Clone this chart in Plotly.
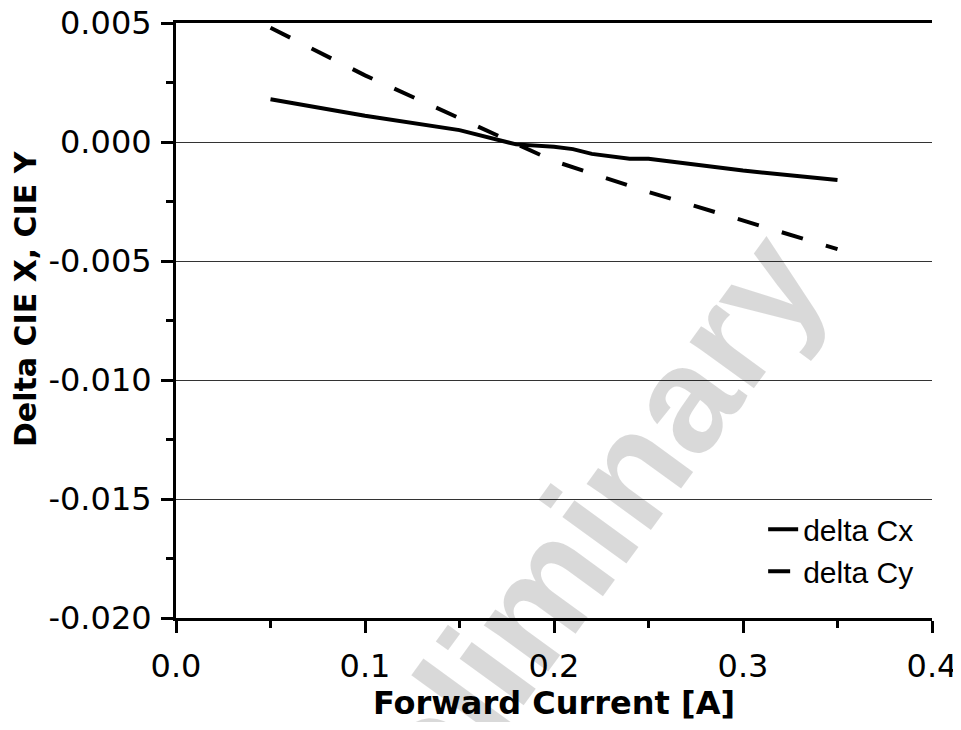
import plotly.graph_objects as go

# Data
cx_current = [0.05, 0.10, 0.15, 0.18, 0.20, 0.21, 0.22, 0.24, 0.25, 0.30, 0.35]
delta_cx = [0.0018, 0.0011, 0.0005, -0.0001, -0.0002, -0.0003, -0.0005, -0.0007, -0.0007, -0.0012, -0.0016]

cy_current = [0.05, 0.10, 0.15, 0.20, 0.25, 0.30, 0.35]
delta_cy = [0.0048, 0.0028, 0.0010, -0.0008, -0.0021, -0.0033, -0.0045]

y_tick_vals = [0.005, 0.000, -0.005, -0.010, -0.015, -0.020]
y_tick_text = ["0.005", "0.000", "-0.005", "-0.010", "-0.015", "-0.020"]
x_tick_vals = [0.0, 0.1, 0.2, 0.3, 0.4]
x_tick_text = ["0.0", "0.1", "0.2", "0.3", "0.4"]

fig = go.Figure()
fig.add_trace(go.Scatter(x=cx_current, y=delta_cx, mode="lines", name="delta Cx",
                         line=dict(color="black", width=4)))
fig.add_trace(go.Scatter(x=cy_current, y=delta_cy, mode="lines", name="delta Cy",
                         line=dict(color="black", width=4, dash="22px,24px")))

tick_font = dict(family="DejaVu Sans", size=32, color="black")
title_font = dict(family="DejaVu Sans", size=32, color="black", weight="bold")

fig.update_layout(
    width=953, height=714,
    paper_bgcolor="white", plot_bgcolor="white",
    margin=dict(l=168, r=29, t=15, b=104, autoexpand=False),
    showlegend=True,
    legend=dict(x=0.983, xanchor="right", y=0.035, yanchor="bottom",
                font=dict(family="Liberation Sans", size=30, color="black"),
                bgcolor="rgba(0,0,0,0)", borderwidth=0, tracegroupgap=0),
    xaxis=dict(range=[0, 0.4], tickvals=x_tick_vals, ticktext=x_tick_text,
               showline=True, linewidth=3, linecolor="black", mirror=True,
               ticks="outside", ticklen=12, tickwidth=3, tickcolor="black",
               ticklabelstandoff=6, ticklabeloverflow="allow",
               minor=dict(tickvals=[0.05, 0.15, 0.25, 0.35], ticks="outside", ticklen=7,
                          tickwidth=3, tickcolor="black", showgrid=False),
               showgrid=False, zeroline=False, tickfont=tick_font,
               title=dict(text="Forward Current [A]", font=title_font, standoff=19)),
    yaxis=dict(range=[-0.020, 0.005], tickvals=y_tick_vals, ticktext=y_tick_text,
               showline=True, linewidth=3, linecolor="black",
               ticks="outside", ticklen=12, tickwidth=3, tickcolor="black",
               ticklabelstandoff=3, ticklabeloverflow="allow",
               minor=dict(tickvals=[0.0025, -0.0025, -0.0075, -0.0125, -0.0175], ticks="outside",
                          ticklen=7, tickwidth=3, tickcolor="black", showgrid=False),
               showgrid=True, gridcolor="#333333", gridwidth=1, zeroline=False,
               tickfont=tick_font),
)

# Y-axis title (placed as text, slightly above the axis centre as in the reference)
fig.add_annotation(text="<b>Delta CIE X, CIE Y</b>", xref="paper", yref="paper",
                   x=-0.199, y=0.537, xanchor="center", yanchor="middle",
                   showarrow=False, textangle=-90,
                   font=dict(family="DejaVu Sans", size=30, color="black"))

# Watermark (translucent so black text and lines stay black underneath)
fig.add_annotation(text="<b>Preliminary</b>", xref="paper", yref="paper", x=0.493, y=0.061,
                   xanchor="center", yanchor="middle",
                   showarrow=False, textangle=-54,
                   font=dict(family="Liberation Sans", size=150, color="rgba(0,0,0,0.15)"))

fig.write_html("out.html")
